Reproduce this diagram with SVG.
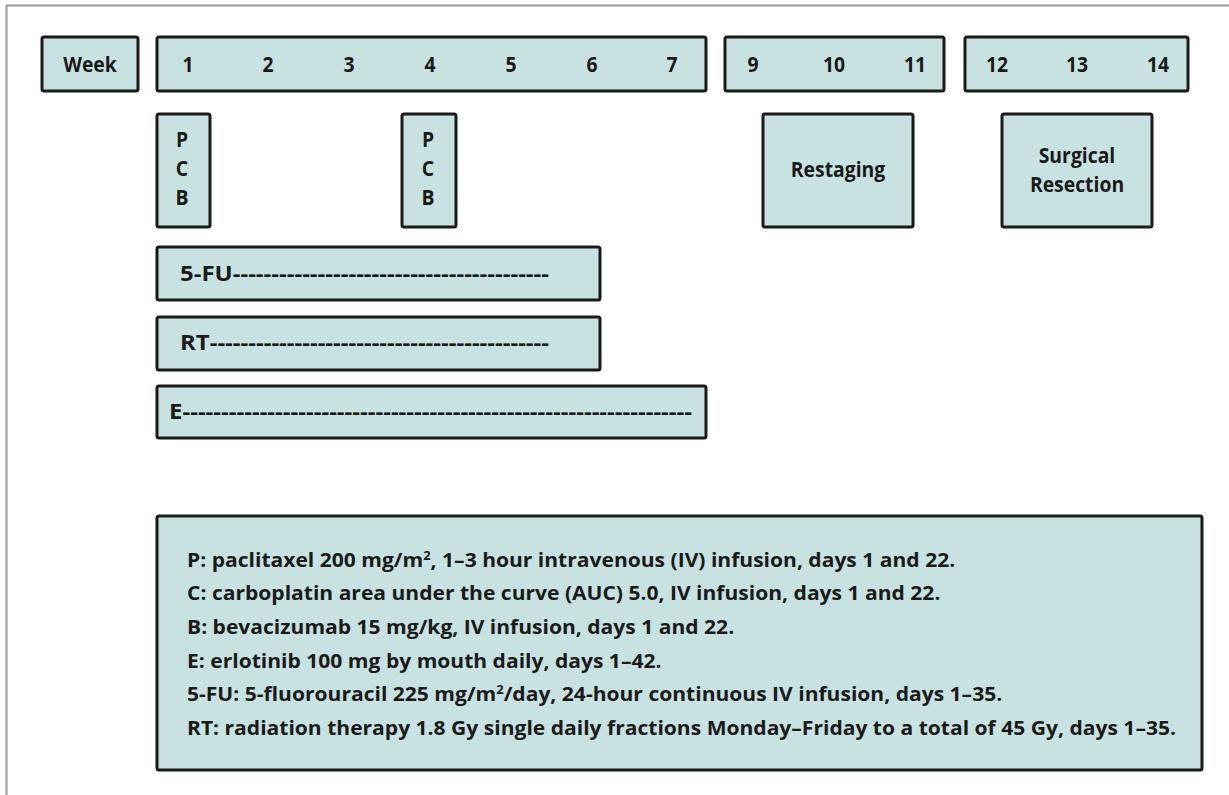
<svg xmlns="http://www.w3.org/2000/svg" width="1229" height="795" viewBox="0 0 1229 795">
  <style>
    .box { fill: #c7e2e0; stroke: #1a1a1a; stroke-width: 3; }
    .lbl { font-family: "Open Sans", "Liberation Sans", sans-serif; font-weight: bold; font-size: 22px; fill: #1a1a1a; }
    .mid { text-anchor: middle; }
    .leg { font-family: "Open Sans", "Liberation Sans", sans-serif; font-weight: bold; font-size: 19.5px; fill: #1a1a1a; }
    .sup { font-size: 12px; }
  </style>

  <!-- outer frame -->
  <rect x="6.5" y="5.5" width="1300" height="900" fill="none" stroke="#9a9a9a" stroke-width="2"/>

  <!-- week header -->
  <g id="week-label">
    <rect class="box" x="42" y="37" width="96" height="54" rx="2"/>
    <text class="lbl mid" transform="translate(90,72) scale(0.88,1)">Week</text>
  </g>
  <g id="weeks-1-7">
    <rect class="box" x="157" y="37" width="549" height="54" rx="2"/>
    <text class="lbl mid" transform="translate(188,72) scale(0.88,1)">1</text>
    <text class="lbl mid" transform="translate(268,72) scale(0.88,1)">2</text>
    <text class="lbl mid" transform="translate(349,72) scale(0.88,1)">3</text>
    <text class="lbl mid" transform="translate(430,72) scale(0.88,1)">4</text>
    <text class="lbl mid" transform="translate(511,72) scale(0.88,1)">5</text>
    <text class="lbl mid" transform="translate(592,72) scale(0.88,1)">6</text>
    <text class="lbl mid" transform="translate(672,72) scale(0.88,1)">7</text>
  </g>
  <g id="weeks-9-11">
    <rect class="box" x="725" y="37" width="219" height="54" rx="2"/>
    <text class="lbl mid" transform="translate(753,72) scale(0.88,1)">9</text>
    <text class="lbl mid" transform="translate(834,72) scale(0.88,1)">10</text>
    <text class="lbl mid" transform="translate(915,72) scale(0.88,1)">11</text>
  </g>
  <g id="weeks-12-14">
    <rect class="box" x="965" y="37" width="223" height="54" rx="2"/>
    <text class="lbl mid" transform="translate(997,72) scale(0.88,1)">12</text>
    <text class="lbl mid" transform="translate(1077,72) scale(0.88,1)">13</text>
    <text class="lbl mid" transform="translate(1158,72) scale(0.88,1)">14</text>
  </g>

  <!-- PCB cycles -->
  <g id="pcb-week1">
    <rect class="box" x="157" y="114" width="53" height="113" rx="2"/>
    <text class="lbl mid" transform="translate(182,147) scale(0.88,1)">P</text>
    <text class="lbl mid" transform="translate(182,176) scale(0.88,1)">C</text>
    <text class="lbl mid" transform="translate(182,205) scale(0.88,1)">B</text>
  </g>
  <g id="pcb-week4">
    <rect class="box" x="402" y="114" width="54" height="113" rx="2"/>
    <text class="lbl mid" transform="translate(428,147) scale(0.88,1)">P</text>
    <text class="lbl mid" transform="translate(428,176) scale(0.88,1)">C</text>
    <text class="lbl mid" transform="translate(428,205) scale(0.88,1)">B</text>
  </g>
  <g id="restaging">
    <rect class="box" x="763" y="114" width="150" height="113" rx="2"/>
    <text class="lbl mid" transform="translate(838,177) scale(0.88,1)">Restaging</text>
  </g>
  <g id="surgical-resection">
    <rect class="box" x="1002" y="114" width="150" height="113" rx="2"/>
    <text class="lbl mid" transform="translate(1077,163) scale(0.88,1)">Surgical</text>
    <text class="lbl mid" transform="translate(1077,192) scale(0.88,1)">Resection</text>
  </g>

  <!-- continuous treatments -->
  <g id="fu-bar">
    <rect class="box" x="157" y="247" width="443" height="53" rx="2"/>
    <text class="lbl" x="180" y="281" textLength="369" lengthAdjust="spacingAndGlyphs">5-FU-----------------------------------------</text>
  </g>
  <g id="rt-bar">
    <rect class="box" x="157" y="317" width="443" height="53" rx="2"/>
    <text class="lbl" x="180" y="350" textLength="369" lengthAdjust="spacingAndGlyphs">RT--------------------------------------------</text>
  </g>
  <g id="e-bar">
    <rect class="box" x="157" y="386" width="549" height="52" rx="2"/>
    <text class="lbl" x="169" y="419" textLength="523" lengthAdjust="spacingAndGlyphs">E------------------------------------------------------------------</text>
  </g>

  <!-- legend -->
  <g id="legend">
    <rect class="box" x="157" y="516" width="1045" height="254" rx="2"/>
    <g transform="translate(187,0) scale(1.08,1)">
      <text class="leg" x="0" y="567">P: paclitaxel 200 mg/m<tspan class="sup" dy="-7">2</tspan><tspan dy="7">, 1–3 hour intravenous (IV) infusion, days 1 and 22.</tspan></text>
      <text class="leg" x="0" y="600">C: carboplatin area under the curve (AUC) 5.0, IV infusion, days 1 and 22.</text>
      <text class="leg" x="0" y="634">B: bevacizumab 15 mg/kg, IV infusion, days 1 and 22.</text>
      <text class="leg" x="0" y="668">E: erlotinib 100 mg by mouth daily, days 1–42.</text>
      <text class="leg" x="0" y="701">5-FU: 5-fluorouracil 225 mg/m<tspan class="sup" dy="-7">2</tspan><tspan dy="7">/day, 24-hour continuous IV infusion, days 1–35.</tspan></text>
      <text class="leg" x="0" y="735">RT: radiation therapy 1.8 Gy single daily fractions Monday–Friday to a total of 45 Gy, days 1–35.</text>
    </g>
  </g>
</svg>
